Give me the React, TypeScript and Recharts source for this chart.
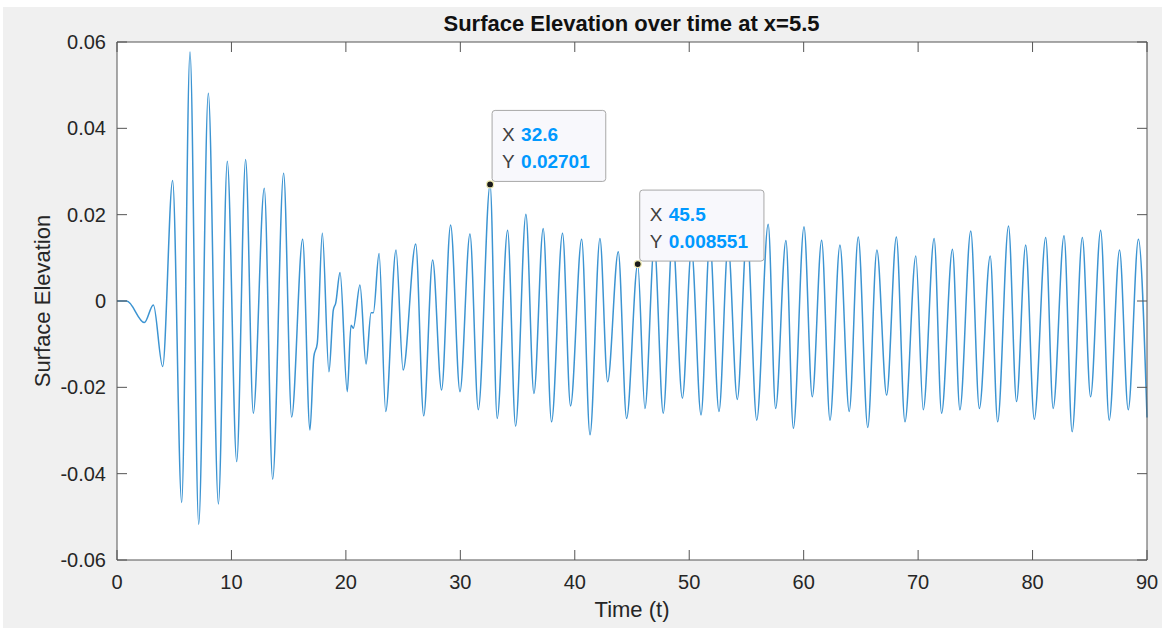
import { LineChart, Line, XAxis, YAxis, CartesianGrid, ReferenceDot } from 'recharts'

// crests, troughs and shoulders
const TIME = [
  0, 0.85, 2.39, 3.18, 3.99, 4.86, 5.65, 6.38, 7.14, 7.98, 8.86, 9.64, 10.46, 11.24, 11.91, 12.87,
  13.6, 14.56, 15.26, 16.22, 16.86, 17.2, 17.5, 17.94, 18.52, 18.9, 19.11, 19.49, 20.12, 20.45,
  20.65, 21.23, 21.76, 22.2, 22.4, 22.9, 23.48, 24.38, 25.0, 26.1, 26.8, 27.58, 28.36, 29.15, 29.97,
  30.84, 31.57, 32.6, 33.22, 34.13, 34.83, 35.73, 36.43, 37.24, 37.97, 38.93, 39.63, 40.6, 41.33,
  42.2, 42.87, 43.8, 44.53, 45.5, 46.13, 46.95, 47.73, 48.55, 49.4, 50.2, 51.03, 51.8, 52.6, 53.4,
  54.2, 55.05, 55.9, 56.9, 57.55, 58.45, 59.1, 60.03, 60.75, 61.57, 62.3, 63.17, 63.98, 64.77,
  65.6, 66.4, 67.25, 68.1, 68.85, 69.8, 70.45, 71.4, 72.05, 73.0, 73.65, 74.6, 75.35, 76.3, 76.95,
  77.9, 78.6, 79.4, 80.15, 81.15, 81.8, 82.75, 83.46, 84.35, 85.07, 85.95, 86.7, 87.6, 88.36,
  89.25, 90,
]
const ELEVATION = [
  0, 0, -0.005, -0.0009, -0.0152, 0.0279, -0.0467, 0.0577, -0.0517, 0.0481, -0.047, 0.0324,
  -0.0372, 0.0328, -0.026, 0.0261, -0.0413, 0.0296, -0.0269, 0.0143, -0.0299, -0.0129, -0.0098,
  0.0157, -0.0164, -0.0021, -0.0005, 0.0066, -0.021, -0.0056, -0.0063, 0.0037, -0.0146, -0.0027,
  -0.0027, 0.011, -0.0256, 0.0118, -0.016, 0.0132, -0.0266, 0.0095, -0.0206, 0.0176, -0.021,
  0.0155, -0.0252, 0.02701, -0.0272, 0.0164, -0.029, 0.0201, -0.0214, 0.0168, -0.028, 0.0157,
  -0.0243, 0.0143, -0.031, 0.0145, -0.0187, 0.0114, -0.0272, 0.008551, -0.0249, 0.013, -0.026,
  0.015, -0.0225, 0.012, -0.0264, 0.014, -0.0256, 0.013, -0.0228, 0.016, -0.0276, 0.0178,
  -0.0249, 0.014, -0.0295, 0.0172, -0.0222, 0.0141, -0.0276, 0.013, -0.0256, 0.0148, -0.0293,
  0.0118, -0.0218, 0.0148, -0.028, 0.0104, -0.0252, 0.0145, -0.026, 0.012, -0.0252, 0.0162,
  -0.0249, 0.0104, -0.028, 0.0174, -0.0233, 0.013, -0.0274, 0.0147, -0.0249, 0.0151, -0.0303,
  0.0147, -0.0222, 0.0164, -0.0276, 0.0118, -0.0252, 0.0143, -0.027,
]

const X_TICKS = [0, 10, 20, 30, 40, 50, 60, 70, 80, 90]
const Y_TICKS = [-0.06, -0.04, -0.02, 0, 0.02, 0.04, 0.06]
const Y_TICK_LABELS = ['-0.06', '-0.04', '-0.02', '0', '0.02', '0.04', '0.06']

const TIP_T = [32.6, 45.5]
const TIP_V = [0.02701, 0.008551]
const TIP_X_LABELS = ['32.6', '45.5']
const TIP_Y_LABELS = ['0.02701', '0.008551']

const data = TIME.map((t, i) => ({ t, y: ELEVATION[i] }))

const FONT = "'Liberation Sans', Helvetica, Arial, sans-serif"
const AXIS = '#555'
const TICK_FONT = 20
const TICK_LEN = 10
const X_GAP = 15
const Y_GAP = 11

// MATLAB style: tick marks point into the plot box
function BottomTick({ x, y, payload }: any) {
  const edge = y - X_GAP
  return (
    <g>
      <line x1={x} x2={x} y1={edge} y2={edge - TICK_LEN} stroke={AXIS} />
      <text x={x} y={y} dy="0.71em" textAnchor="middle" fontFamily={FONT} fontSize={TICK_FONT} fill="#262626">
        {payload.value}
      </text>
    </g>
  )
}

function LeftTick({ x, y, payload }: any) {
  const edge = x + Y_GAP
  const label = Y_TICK_LABELS[Y_TICKS.indexOf(payload.value)] ?? String(payload.value)
  return (
    <g>
      <line x1={edge} x2={edge + TICK_LEN} y1={y} y2={y} stroke={AXIS} />
      <text x={x} y={y} dy="0.355em" textAnchor="end" fontFamily={FONT} fontSize={TICK_FONT} fill="#262626">
        {label}
      </text>
    </g>
  )
}

function TopTick({ x, y }: any) {
  return <line x1={x} x2={x} y1={y} y2={y + TICK_LEN} stroke={AXIS} />
}

function RightTick({ x, y }: any) {
  return <line x1={x} x2={x - TICK_LEN} y1={y} y2={y} stroke={AXIS} />
}

function DataTip({ cx, cy, xl, yl }: { cx: number; cy: number; xl: string; yl: string }) {
  const digits = yl.replace('.', '').length
  const w = 45 + 19 * (0.556 * digits + 0.278)
  const left = cx + 2
  const top = cy - 74
  return (
    <g fontFamily={FONT} fontSize={19}>
      <rect x={left} y={top} width={w} height={71} rx={3} fill="#f8f8fc" stroke="#a8a8a8" strokeWidth={1} />
      <text x={left + 10} y={top + 31} fill="#404040">X</text>
      <text x={left + 29} y={top + 31} fill="#0099ff" fontWeight="bold">{xl}</text>
      <text x={left + 10} y={top + 58} fill="#404040">Y</text>
      <text x={left + 29} y={top + 58} fill="#0099ff" fontWeight="bold">{yl}</text>
      <circle cx={cx} cy={cy} r={3.5} fill="#1a1a1a" stroke="#eeeab0" strokeWidth={1.2} />
    </g>
  )
}

export default function App() {
  return (
    <div style={{ position: 'absolute', left: 0, top: 0, width: 1162, height: 628, background: '#fff' }}>
      <div style={{ position: 'absolute', left: 3, top: 7, width: 1159, height: 621, background: '#f0f0f0' }} />
      <div style={{ position: 'absolute', left: 0, top: 0 }}>
        <LineChart width={1162} height={628} data={data} margin={{ top: 41, right: 14, bottom: 28, left: 57 }}>
          <CartesianGrid fill="#fff" stroke="none" horizontal={false} vertical={false} />
          <XAxis
            dataKey="t"
            type="number"
            domain={[0, 90]}
            ticks={X_TICKS}
            height={40}
            stroke={AXIS}
            tickLine={false}
            tickSize={0}
            tickMargin={X_GAP}
            tick={<BottomTick />}
          />
          <XAxis
            xAxisId="top"
            orientation="top"
            dataKey="t"
            type="number"
            domain={[0, 90]}
            ticks={X_TICKS}
            height={1}
            stroke={AXIS}
            tickLine={false}
            tickSize={0}
            tickMargin={0}
            tick={<TopTick />}
          />
          <YAxis
            type="number"
            domain={[-0.06, 0.06]}
            ticks={Y_TICKS}
            width={60}
            stroke={AXIS}
            tickLine={false}
            tickSize={0}
            tickMargin={Y_GAP}
            tick={<LeftTick />}
          />
          <YAxis
            yAxisId="right"
            orientation="right"
            type="number"
            domain={[-0.06, 0.06]}
            ticks={Y_TICKS}
            width={1}
            stroke={AXIS}
            tickLine={false}
            tickSize={0}
            tickMargin={0}
            tick={<RightTick />}
          />
          <Line
            xAxisId="top"
            yAxisId="right"
            type="monotone"
            dataKey="y"
            stroke="none"
            dot={false}
            legendType="none"
            isAnimationActive={false}
          />
          <Line
            type="monotone"
            dataKey="y"
            stroke="#3c94d2"
            strokeWidth={1.5}
            dot={false}
            isAnimationActive={false}
          />
          {TIP_T.map((t, i) => (
            <ReferenceDot
              key={t}
              x={t}
              y={TIP_V[i]}
              r={3.5}
              shape={(p: any) => <DataTip cx={p.cx} cy={p.cy} xl={TIP_X_LABELS[i]} yl={TIP_Y_LABELS[i]} />}
            />
          ))}
        </LineChart>
      </div>
      <svg width={1162} height={628} style={{ position: 'absolute', left: 0, top: 0, pointerEvents: 'none' }}>
        <text x={631.5} y={31} textAnchor="middle" fontFamily={FONT} fontSize={22} fontWeight="bold" fill="#111">
          Surface Elevation over time at x=5.5
        </text>
        <text x={632} y={617} textAnchor="middle" fontFamily={FONT} fontSize={22} fill="#262626">
          Time (t)
        </text>
        <text
          transform="translate(50,301) rotate(-90)"
          textAnchor="middle"
          fontFamily={FONT}
          fontSize={22}
          fill="#262626"
        >
          Surface Elevation
        </text>
      </svg>
    </div>
  )
}
